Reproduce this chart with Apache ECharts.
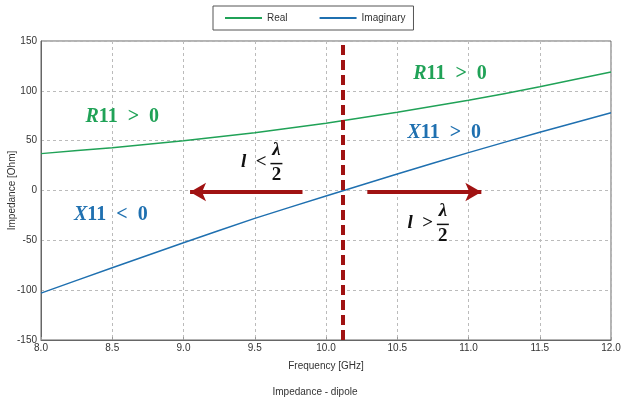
<!DOCTYPE html>
<html><head><meta charset="utf-8">
<script src="https://cdn.jsdelivr.net/npm/echarts@6/dist/echarts.min.js"></script>
<style>html,body{margin:0;padding:0;background:#fff}#c{width:630px;height:407px}</style>
</head><body><div id="c"></div>
<script>
const freq = [8.0, 8.5, 9.0, 9.5, 10.0, 10.5, 11.0, 11.5, 12.0];
const realVals = [37, 43, 50, 58, 67.5, 78.5, 90.5, 104, 119];
const imagVals = [-103, -77.5, -52.5, -28, -5.5, 16.5, 38, 58.5, 78];
const resonance = 10.12;
const leftArrow = [[9.835, -1.5], [9.046, -1.5]];
const rightArrow = [[10.29, -1.5], [11.09, -1.5]];
const GREEN = '#20a257', BLUE = '#1f70b0', RED = '#a01212';
const font = 'Liberation Sans, Arial, sans-serif';
const mathFont = 'Liberation Serif, DejaVu Serif, serif';

const chart = echarts.init(document.getElementById('c'), null, {renderer: 'canvas'});
const pairs = (v) => freq.map((f, i) => [f, v[i]]);
chart.setOption({
  animation: false,
  title: {text: 'Impedance - dipole', left: 'center', bottom: 5,
    textStyle: {fontSize: 10, fontWeight: 'normal', color: '#333', fontFamily: font}},
  legend: {left: 213, top: 6, itemWidth: 37, itemHeight: 2, itemGap: 32, icon: 'rect',
    borderColor: '#555', borderWidth: 1, borderRadius: 0, padding: [7, 8, 7, 12],
    textStyle: {fontSize: 10, color: '#333', fontFamily: font},
    data: ['Real', 'Imaginary']},
  grid: {left: 41, right: 19, top: 41, bottom: 67, outerBoundsMode: 'none', containLabel: false,
    show: true, borderColor: '#666', borderWidth: 1},
  xAxis: {type: 'value', min: 8, max: 12, interval: 0.5,
    name: 'Frequency [GHz]', nameLocation: 'middle', nameGap: 21, nameMoveOverlap: false,
    nameTextStyle: {fontSize: 10, color: '#333', fontFamily: font},
    axisLine: {onZero: false, lineStyle: {color: '#666'}},
    axisTick: {inside: true, length: 3, lineStyle: {color: '#999'}},
    axisLabel: {fontSize: 10, color: '#333', fontFamily: font, margin: 3, formatter: v => v.toFixed(1)},
    splitLine: {lineStyle: {color: '#bbb', type: [3, 3]}}},
  yAxis: {type: 'value', min: -150, max: 150, interval: 50,
    name: 'Impedance [Ohm]', nameLocation: 'middle', nameGap: 24, nameMoveOverlap: false,
    nameTextStyle: {fontSize: 10, color: '#333', fontFamily: font},
    axisLine: {show: true, onZero: false, lineStyle: {color: '#666'}},
    axisTick: {show: false},
    axisLabel: {fontSize: 10, color: '#333', fontFamily: font, margin: 4},
    splitLine: {lineStyle: {color: '#bbb', type: [3, 3]}}},
  series: [
    {name: 'Real', type: 'line', data: pairs(realVals), smooth: 0.15, showSymbol: false,
      lineStyle: {color: GREEN, width: 1.5}, itemStyle: {color: GREEN}},
    {name: 'Imaginary', type: 'line', data: pairs(imagVals), smooth: 0.15, showSymbol: false,
      lineStyle: {color: BLUE, width: 1.5}, itemStyle: {color: BLUE},
      markLine: {silent: true, animation: false, label: {show: false}, symbol: ['none', 'none'],
        data: [
          [{coord: leftArrow[0], symbol: 'none'}, {coord: leftArrow[1], symbol: 'arrow', symbolSize: [14, 16]}],
          [{coord: rightArrow[0], symbol: 'none'}, {coord: rightArrow[1], symbol: 'arrow', symbolSize: [14, 16]}],
          {xAxis: resonance, symbol: 'none', lineStyle: {type: [10, 5], width: 4}}
        ],
        lineStyle: {color: RED, width: 4, type: 'solid'}}}
  ]
});

const px = (x, y) => chart.convertToPixel({gridIndex: 0}, [x, y]);
function mathLabel(pt, head, rest, color) {
  const p = px(pt[0], pt[1]);
  return {type: 'text', x: p[0], y: p[1], style: {
    text: '{i|' + head + '}{n|' + rest + '}', align: 'center', verticalAlign: 'middle',
    rich: {i: {fontFamily: mathFont, fontSize: 20, fontWeight: 'bold', fontStyle: 'italic', fill: color},
           n: {fontFamily: mathFont, fontSize: 20, fontWeight: 'bold', fill: color}}}};
}
function fracLabel(pt, rel) {
  const p = px(pt[0], pt[1]);
  const st = {fontFamily: mathFont, fontSize: 19, fontWeight: 'bold', fill: '#111'};
  return {type: 'group', x: p[0], y: p[1], children: [
    {type: 'text', x: -5, y: 0, style: {text: '{i|l}{n|\u2002' + rel + ' }', align: 'right', verticalAlign: 'middle',
      rich: {i: Object.assign({fontStyle: 'italic'}, st), n: st}}},
    {type: 'text', x: 0, y: -12, style: Object.assign({text: 'λ', align: 'center', verticalAlign: 'middle', fontStyle: 'italic'}, st)},
    {type: 'line', shape: {x1: -6, y1: 1, x2: 6, y2: 1}, style: {stroke: '#111', lineWidth: 1.5}},
    {type: 'text', x: 0, y: 13, style: Object.assign({text: '2', align: 'center', verticalAlign: 'middle'}, st)}
  ]};
}
chart.setOption({graphic: [
  mathLabel([8.57, 74], 'R', '11\u2002>\u20020', GREEN),
  mathLabel([8.49, -24], 'X', '11\u2002<\u20020', BLUE),
  mathLabel([10.87, 117], 'R', '11\u2002>\u20020', GREEN),
  mathLabel([10.83, 58], 'X', '11\u2002>\u20020', BLUE),
  fracLabel([9.652, 28], '<'),
  fracLabel([10.82, -33], '>')
]});
</script></body></html>
